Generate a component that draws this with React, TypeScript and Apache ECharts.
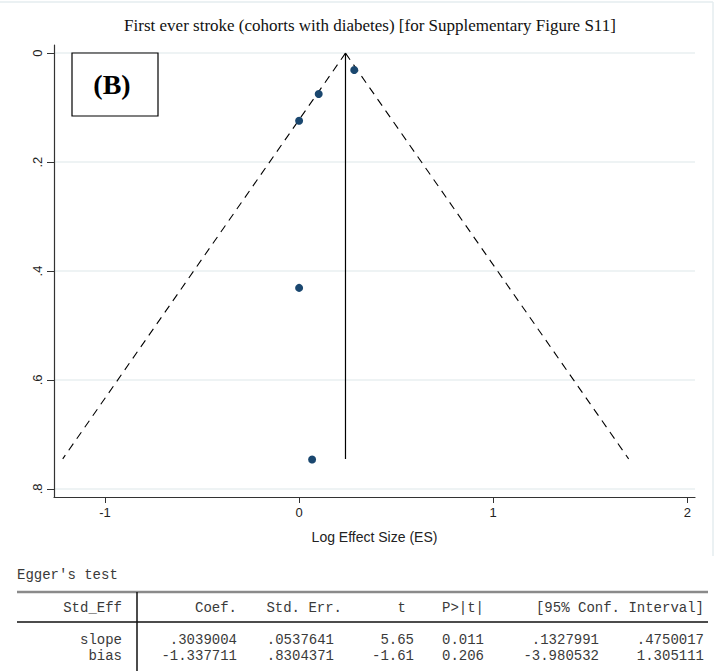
import React, { useEffect, useRef } from "react";
import * as echarts from "echarts";

// Study points: log effect size and standard error
const studyES = [0.284, 0.101, 0.0, 0.0, 0.067];
const studySE = [0.031, 0.075, 0.124, 0.431, 0.746];

// Pooled estimate line and pseudo 95% CI limits
const pooledES = 0.239;
const seMax = 0.745;
const lowerLimitAtMax = -1.218;
const upperLimitAtMax = 1.698;

const xTicks = [-1, 0, 1, 2];
const yTicks = [0, 0.2, 0.4, 0.6, 0.8];
const yTickLabels = ["0", ".2", ".4", ".6", ".8"];

const titleText = "First ever stroke (cohorts with diabetes) [for Supplementary Figure S11]";
const xAxisName = "Log Effect Size (ES)";
const panelLabel = "(B)";

// Egger's test table
const tableTitle = "Egger's test";
const tableHeader = ["Std_Eff", "Coef.", "Std. Err.", "t", "P>|t|", "[95% Conf. Interval]"];
const rowNames = ["slope", "bias"];
const rowCoef = [".3039004", "-1.337711"];
const rowStdErr = [".0537641", ".8304371"];
const rowT = ["5.65", "-1.61"];
const rowP = ["0.011", "0.206"];
const rowLow = [".1327991", "-3.980532"];
const rowHigh = [".4750017", "1.305111"];

export default function App() {
  const ref = useRef<HTMLDivElement>(null);
  useEffect(() => {
    document.body.style.margin = "0";
    if (!ref.current) return;
    const chart = echarts.init(ref.current, null, { renderer: "svg" });

    const mono = "'Liberation Mono', 'DejaVu Sans Mono', monospace";
    const monoStyle = (text: string, x: number, y: number, align: string) => ({
      type: "text",
      x,
      y,
      style: {
        text,
        fill: "#3a3a3a",
        font: `14px ${mono}`,
        textAlign: align,
        textVerticalAlign: "middle",
      },
    });

    const headerRight = [122, 237, 342, 406, 484, 704];
    const rowRight = [122, 237, 334, 414, 484, 599, 704];
    const rowYs = [640, 656];

    const tableEls: any[] = [];
    tableEls.push(monoStyle(tableTitle, 17, 575, "left"));
    tableHeader.forEach((h, i) => tableEls.push(monoStyle(h, headerRight[i], 608, "right")));
    rowNames.forEach((name, r) => {
      const cells = [name, rowCoef[r], rowStdErr[r], rowT[r], rowP[r], rowLow[r], rowHigh[r]];
      cells.forEach((c, i) => tableEls.push(monoStyle(c, rowRight[i], rowYs[r], "right")));
    });
    tableEls.push({
      type: "line",
      shape: { x1: 17, y1: 592, x2: 708, y2: 592 },
      style: { stroke: "#8a8a8a", lineWidth: 2.5 },
    });
    tableEls.push({
      type: "line",
      shape: { x1: 17, y1: 622, x2: 708, y2: 622 },
      style: { stroke: "#111", lineWidth: 1.5 },
    });
    tableEls.push({
      type: "line",
      shape: { x1: 137, y1: 592, x2: 137, y2: 671 },
      style: { stroke: "#111", lineWidth: 1.5 },
    });

    const sans = "'Liberation Sans', Arial, sans-serif";
    const option: any = {
      animation: false,
      backgroundColor: "#ffffff",
      grid: { left: 54, right: 29, top: 45, bottom: 174, containLabel: false },
      xAxis: {
        type: "value",
        min: -1.263,
        max: 2.04,
        name: xAxisName,
        nameLocation: "middle",
        nameGap: 33,
        nameTextStyle: { fontFamily: sans, fontSize: 14, color: "#222" },
        axisLine: { show: true, onZero: false, lineStyle: { color: "#333", width: 1.2 } },
        axisTick: { show: true, length: 6, customValues: xTicks, lineStyle: { color: "#333" } },
        axisLabel: {
          customValues: xTicks,
          margin: 9,
          fontFamily: sans,
          fontSize: 13,
          color: "#222",
          formatter: (v: number) => String(v),
        },
        splitLine: { show: false },
      },
      yAxis: {
        type: "value",
        inverse: true,
        min: -0.015,
        max: 0.815,
        axisLine: { show: true, onZero: false, lineStyle: { color: "#333", width: 1.2 } },
        axisTick: { show: true, length: 7, customValues: yTicks, lineStyle: { color: "#333" } },
        axisLabel: {
          customValues: yTicks,
          rotate: 90,
          margin: 10,
          fontFamily: sans,
          fontSize: 13,
          color: "#222",
          formatter: (v: number) => {
            const i = yTicks.findIndex((t) => Math.abs(t - v) < 1e-9);
            return i >= 0 ? yTickLabels[i] : "";
          },
        },
        splitLine: { show: true, lineStyle: { color: "#e8eff1", width: 1.5 } },
      },
      series: [
        {
          type: "line",
          data: [
            [pooledES, 0],
            [lowerLimitAtMax, seMax],
          ],
          showSymbol: false,
          symbol: "none",
          lineStyle: { color: "#000", width: 1.1, type: [8, 6] },
          silent: true,
          z: 3,
        },
        {
          type: "line",
          data: [
            [pooledES, 0],
            [upperLimitAtMax, seMax],
          ],
          showSymbol: false,
          symbol: "none",
          lineStyle: { color: "#000", width: 1.1, type: [8, 6] },
          silent: true,
          z: 3,
        },
        {
          type: "line",
          data: [
            [pooledES, 0],
            [pooledES, seMax],
          ],
          showSymbol: false,
          symbol: "none",
          lineStyle: { color: "#000", width: 1.2 },
          silent: true,
          z: 3,
        },
        {
          type: "scatter",
          data: studyES.map((x, i) => [x, studySE[i]]),
          symbol: "circle",
          symbolSize: 8,
          itemStyle: { color: "#1a476f", opacity: 1 },
          z: 4,
        },
      ],
      graphic: [
        {
          type: "line",
          shape: { x1: 0, y1: 2, x2: 713, y2: 2 },
          style: { stroke: "#e4ecef", lineWidth: 1.5 },
          z: -1,
        },
        {
          type: "line",
          shape: { x1: 713, y1: 2, x2: 713, y2: 556 },
          style: { stroke: "#e4ecef", lineWidth: 1.5 },
          z: -1,
        },
        {
          type: "text",
          x: 370,
          y: 25,
          style: {
            text: titleText,
            fill: "#111",
            font: "17px 'Liberation Serif', 'Times New Roman', serif",
            textAlign: "center",
            textVerticalAlign: "middle",
          },
        },
        {
          type: "rect",
          shape: { x: 72, y: 53, width: 86, height: 63 },
          style: { fill: "#fff", stroke: "#000", lineWidth: 1.2 },
          z: 10,
        },
        {
          type: "text",
          x: 112,
          y: 84,
          style: {
            text: panelLabel,
            fill: "#000",
            font: "bold 28px 'Liberation Serif', 'Times New Roman', serif",
            textAlign: "center",
            textVerticalAlign: "middle",
          },
          z: 11,
        },
        ...tableEls,
      ],
    };
    chart.setOption(option);
    return () => chart.dispose();
  }, []);
  return <div ref={ref} style={{ width: 724, height: 671 }} />;
}
